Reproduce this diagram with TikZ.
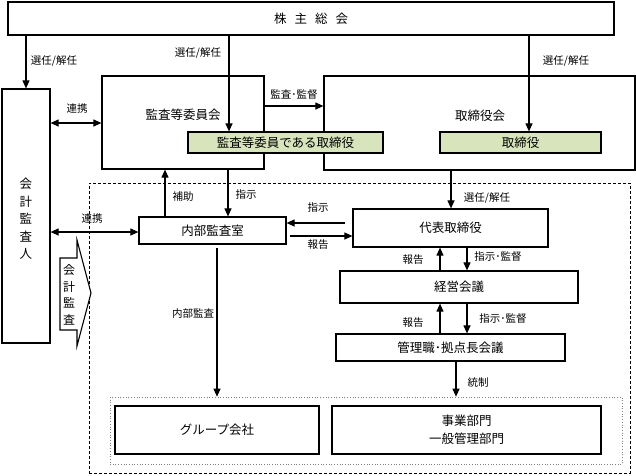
\documentclass[tikz,border=0pt]{standalone}
\usepackage{fontspec}
\setmainfont{Noto Sans CJK JP}
\newfontfamily\jpf{Noto Sans CJK JP}
\usetikzlibrary{arrows.meta}
\definecolor{gfill}{RGB}{216,228,188}
\tikzset{
  box/.style={draw, line width=1.2pt, inner sep=0pt, font=\jpf\fontsize{12.5}{15}\selectfont, align=center},
  gbox/.style={box, fill=gfill},
  area/.style={draw, inner sep=0pt},
  lbl/.style={font=\jpf\fontsize{10.5}{12}\selectfont, inner sep=1pt},
  txt/.style={font=\jpf\fontsize{12.5}{15}\selectfont, inner sep=1pt},
  arr/.style={line width=1.1pt, -{Triangle[length=8pt,width=7pt]}},
  darr/.style={line width=1.1pt, {Triangle[length=8pt,width=7pt]}-{Triangle[length=8pt,width=7pt]}},
}
\begin{document}
\begin{tikzpicture}[x=1pt,y=-1pt]
\useasboundingbox (0,0) rectangle (636,475);
% areas
\node[area, dashed, dash pattern=on 3pt off 2pt, line width=0.7pt, minimum width=541pt, minimum height=290pt] (scope) at (359.5,328) {};
\node[area, dotted, gray, line width=0.7pt, minimum width=512pt, minimum height=67pt] (grp) at (366,430.5) {};
% boxes
\node[box, minimum width=606pt, minimum height=33pt] (kabu) at (311,18.5) {株\hspace{8pt}主\hspace{8pt}総\hspace{8pt}会};
\node[box, minimum width=48pt, minimum height=254pt] (kaikei) at (26,216) {};
\node[txt, align=center, font=\jpf\fontsize{12.5}{17.5}\selectfont] (kaikeit) at (26,219) {会\\計\\監\\査\\人};
\node[box, minimum width=162pt, minimum height=93pt] (kansa) at (183,122.5) {};
\node[txt] (kansat) at (183,115) {監査等委員会};
\node[box, minimum width=311pt, minimum height=94pt] (tori) at (479.5,123) {};
\node[txt] (torit) at (480,116) {取締役会};
\node[gbox, minimum width=195pt, minimum height=21pt] (g1) at (285.5,142.5) {監査等委員である取締役};
\node[gbox, minimum width=161pt, minimum height=21pt] (g2) at (520.5,142.5) {取締役};
\node[box, minimum width=147pt, minimum height=27pt] (naibu) at (212.5,230.5) {内部監査室};
\node[box, minimum width=195pt, minimum height=38pt] (daihyo) at (450.5,228) {代表取締役};
\node[box, minimum width=238pt, minimum height=32pt] (keiei) at (459,287) {経営会議};
\node[box, minimum width=229pt, minimum height=27pt] (kanri) at (450.5,347.5) {管理職･拠点長会議};
\node[box, minimum width=204pt, minimum height=48pt] (group) at (217,430) {グループ会社};
\node[box, minimum width=269pt, minimum height=48pt, font=\jpf\fontsize{12.5}{18}\selectfont] (jigyo) at (466.5,430) {事業部門\\一般管理部門};
% block arrow
\draw[line width=1.1pt, fill=white] (60,258) -- (77,258) -- (77,240) -- (91,293) -- (77,346) -- (77,330) -- (60,330) -- cycle;
\node[txt, align=center, font=\jpf\fontsize{12}{16.5}\selectfont] (kaikeia) at (69,295) {会\\計\\監\\査};
% connectors
\draw[arr] (kaikei.north |- kabu.south) -- (kaikei.north);
\draw[arr] (229,0 |- kabu.south) -- (229,0 |- g1.north);
\draw[arr] (529,0 |- kabu.south) -- (529,0 |- g2.north);
\draw[arr] (kansa.east |- 0,106) -- (tori.west |- 0,106);
\draw[darr] (kaikei.east |- 0,123) -- (kansa.west |- 0,123);
\draw[arr] (165,0 |- naibu.north) -- (165,0 |- kansa.south);
\draw[arr] (228,0 |- kansa.south) -- (228,0 |- naibu.north);
\draw[darr] (kaikei.east |- 0,232) -- (naibu.west |- 0,232);
\draw[arr, shorten <=7pt] (daihyo.west |- 0,223) -- (naibu.east |- 0,223);
\draw[arr, shorten <=3pt] (naibu.east |- 0,236) -- (daihyo.west |- 0,236);
\draw[arr] (451,0 |- tori.south) -- (451,0 |- daihyo.north);
\draw[arr] (440,0 |- keiei.north) -- (440,0 |- daihyo.south);
\draw[arr] (467,0 |- daihyo.south) -- (467,0 |- keiei.north);
\draw[arr] (440,0 |- kanri.north) -- (440,0 |- keiei.south);
\draw[arr] (467,0 |- keiei.south) -- (467,0 |- kanri.north);
\draw[arr] (456,0 |- kanri.south) -- (456,0 |- grp.north);
\draw[arr, shorten <=3pt] (217,0 |- naibu.south) -- (217,0 |- grp.north);
% labels
\node[lbl] (l1) at (54,61) {選任/解任};
\node[lbl] (l2) at (198,53) {選任/解任};
\node[lbl] (l3) at (566,61) {選任/解任};
\node[lbl] (l4) at (294,95) {監査･監督};
\node[lbl] (l5) at (77,109) {連携};
\node[lbl] (l6) at (183,197) {補助};
\node[lbl] (l7) at (246,195) {指示};
\node[lbl] (l8) at (92,219) {連携};
\node[lbl] (l9) at (318,208) {指示};
\node[lbl] (l10) at (318,245) {報告};
\node[lbl] (l11) at (487,198) {選任/解任};
\node[lbl] (l12) at (413,260) {報告};
\node[lbl] (l13) at (498,257) {指示･監督};
\node[lbl] (l14) at (413,323) {報告};
\node[lbl] (l15) at (503,318) {指示･監督};
\node[lbl] (l16) at (478,383) {統制};
\node[lbl] (l17) at (193,314) {内部監査};
\end{tikzpicture}
\end{document}
